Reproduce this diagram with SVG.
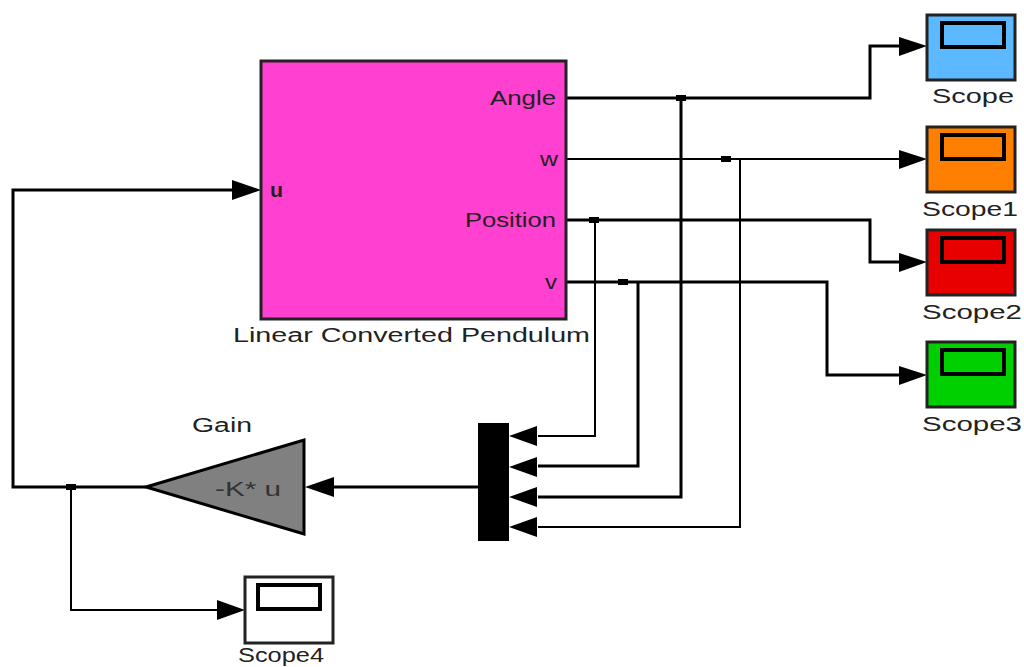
<svg xmlns="http://www.w3.org/2000/svg" width="1024" height="667" viewBox="0 0 1024 667">
<defs>
<style>
text{font-family:"Liberation Sans",Arial,sans-serif;font-size:20px;fill:#222}
.c{fill:none;stroke:#000;stroke-width:3}
.t{stroke-width:2}
.a{fill:#000}
.b{stroke:#222;stroke-width:3}
.s{fill:none;stroke:#000;stroke-width:4}
</style>
</defs>
<rect width="1024" height="667" fill="#fff"/>
<g id="connectors">
<path class="c" d="M566 98H870V46H900"/>
<path class="c t" d="M566 159H900"/>
<path class="c" d="M566 220H870V262H900"/>
<path class="c" d="M566 282H827V375H900"/>
<path class="c" d="M681 98V497H538"/>
<path class="c t" d="M740 159V527H538"/>
<path class="c t" d="M595 220V436H538"/>
<path class="c" d="M638 282V466H538"/>
<path class="c" d="M478 487H334"/>
<path class="c" d="M146 487H13V190H232"/>
<path class="c t" d="M71 487V610H217"/>
<rect class="a" x="676" y="95" width="10" height="6"/>
<rect class="a" x="721" y="156" width="10" height="6"/>
<rect class="a" x="589" y="217" width="10" height="6"/>
<rect class="a" x="618" y="279" width="10" height="6"/>
<rect class="a" x="66" y="484" width="10" height="6"/>
<polygon class="a" points="927,46 899,37 899,56"/>
<polygon class="a" points="927,159 899,150 899,169"/>
<polygon class="a" points="927,262 899,253 899,272"/>
<polygon class="a" points="927,375 899,366 899,385"/>
<polygon class="a" points="261,190 232,180 232,200"/>
<polygon class="a" points="245,610 217,600 217,620"/>
<polygon class="a" points="509,436 537,426 537,446"/>
<polygon class="a" points="509,467 537,457 537,477"/>
<polygon class="a" points="509,497 537,487 537,507"/>
<polygon class="a" points="509,527 537,517 537,537"/>
<polygon class="a" points="305,487 334,477 334,497"/>
</g>
<g id="pendulum">
<rect x="261" y="61" width="305" height="258" fill="#ff40d0" stroke="#222" stroke-width="3"/>
<text x="490" y="105" textLength="66" lengthAdjust="spacingAndGlyphs">Angle</text>
<text x="540" y="166" textLength="18" lengthAdjust="spacingAndGlyphs">w</text>
<text x="465" y="227" textLength="91" lengthAdjust="spacingAndGlyphs">Position</text>
<text x="545" y="289" textLength="12" lengthAdjust="spacingAndGlyphs">v</text>
<text x="270" y="197" font-weight="bold" textLength="13" lengthAdjust="spacingAndGlyphs">u</text>
<text x="233" y="342" textLength="357" lengthAdjust="spacingAndGlyphs">Linear Converted Pendulum</text>
</g>
<g id="scope">
<rect class="b" x="927" y="15" width="88" height="65" fill="#5cb8ff"/>
<rect class="s" x="942" y="23" width="62" height="24"/>
<text x="932" y="103" textLength="82" lengthAdjust="spacingAndGlyphs">Scope</text>
</g>
<g id="scope1">
<rect class="b" x="927" y="127" width="88" height="65" fill="#ff8000"/>
<rect class="s" x="942" y="135" width="62" height="24"/>
<text x="922" y="216" textLength="96" lengthAdjust="spacingAndGlyphs">Scope1</text>
</g>
<g id="scope2">
<rect class="b" x="927" y="230" width="88" height="65" fill="#e80000"/>
<rect class="s" x="942" y="238" width="62" height="24"/>
<text x="922" y="319" textLength="100" lengthAdjust="spacingAndGlyphs">Scope2</text>
</g>
<g id="scope3">
<rect class="b" x="927" y="342" width="88" height="65" fill="#00d000"/>
<rect class="s" x="942" y="350" width="62" height="24"/>
<text x="922" y="431" textLength="100" lengthAdjust="spacingAndGlyphs">Scope3</text>
</g>
<g id="scope4">
<rect class="b" x="245" y="577" width="88" height="66" fill="#fff"/>
<rect class="s" x="258" y="585" width="62" height="24"/>
<text x="238" y="662" textLength="86" lengthAdjust="spacingAndGlyphs">Scope4</text>
</g>
<g id="mux">
<rect x="478" y="423" width="31" height="118" fill="#000"/>
</g>
<g id="gain">
<polygon points="146,487 304,440 304,534" fill="#808080" stroke="#000" stroke-width="3"/>
<text x="215" y="496" textLength="66" lengthAdjust="spacingAndGlyphs" style="fill:#333">-K* u</text>
<text x="192" y="432" textLength="60" lengthAdjust="spacingAndGlyphs">Gain</text>
</g>
</svg>
